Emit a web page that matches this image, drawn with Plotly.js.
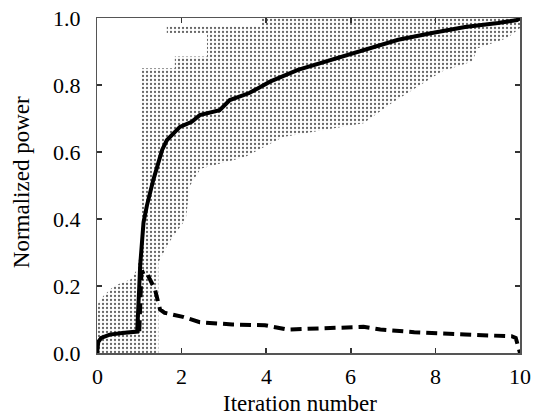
<!DOCTYPE html>
<html>
<head>
<meta charset="utf-8">
<script src="https://cdn.plot.ly/plotly-3.0.1.min.js"></script>
<style>
html,body{margin:0;padding:0;background:#fff;}
#chart{width:535px;height:415px;}
#chart text{font-family:'Liberation Serif','Times New Roman',serif !important;}
</style>
</head>
<body>
<div id="chart"></div>
<script>
// Mean normalized power (solid)
const meanX = [0, 0.03, 0.1, 0.3, 0.6, 0.95, 1.0, 1.02, 1.1, 1.18, 1.33, 1.54, 1.65, 1.8, 1.96, 2.24, 2.43, 2.9, 3.14, 3.6, 4.09, 4.75, 5.56, 6.34, 7.12, 7.92, 8.7, 9.48, 9.93, 10];
const meanY = [0, 0.033, 0.045, 0.055, 0.06, 0.064, 0.2, 0.26, 0.39, 0.44, 0.516, 0.606, 0.635, 0.656, 0.675, 0.69, 0.71, 0.725, 0.755, 0.776, 0.81, 0.845, 0.875, 0.905, 0.935, 0.955, 0.973, 0.985, 0.994, 1.0];
// Standard deviation (dashed)
const stdX = [1.0, 1.05, 1.15, 1.25, 1.37, 1.49, 1.6, 2.03, 2.43, 3.2, 3.97, 4.5, 5.0, 5.9, 6.3, 6.7, 7.5, 8.7, 9.8, 9.9, 10];
const stdY = [0.065, 0.24, 0.245, 0.22, 0.19, 0.13, 0.12, 0.108, 0.092, 0.085, 0.083, 0.07, 0.073, 0.078, 0.078, 0.07, 0.062, 0.055, 0.05, 0.045, 0];
// Outline of the region covered by individual runs (dotted area)
const runsX = [0, 1.45, 1.45, 1.7, 2.1, 2.2, 2.45, 3.5, 4.4, 6.3, 6.97, 7.6, 8.15, 8.87, 9.0, 9.7, 10, 10, 3.9, 3.9, 1.65, 1.65, 2.6, 2.6, 1.84, 1.84, 1.06, 1.02, 0.95, 0.8, 0.4, 0.15, 0.03, 0, 0];
const runsY = [0, 0, 0.27, 0.33, 0.4, 0.5, 0.55, 0.585, 0.645, 0.686, 0.746, 0.795, 0.84, 0.87, 0.91, 0.94, 0.97, 1.0, 1.0, 0.975, 0.975, 0.955, 0.955, 0.885, 0.885, 0.85, 0.85, 0.3, 0.25, 0.22, 0.2, 0.17, 0.15, 0.1, 0];
const xTicks = [0, 2, 4, 6, 8, 10];
const xTickText = ['0', '2', '4', '6', '8', '10'];
const yTicks = [0, 0.2, 0.4, 0.6, 0.8, 1.0];
const yTickText = ['0.0', '0.2', '0.4', '0.6', '0.8', '1.0'];
const xTitle = 'Iteration number';
const yTitle = 'Normalized power';

const FONT = 'Liberation Serif';

const traces = [
  {
    x: runsX, y: runsY, type: 'scatter', mode: 'lines', fill: 'toself',
    line: {width: 0, color: 'rgba(0,0,0,0)'},
    fillcolor: 'rgba(255,255,255,0)',
    fillpattern: {shape: '.', fgcolor: '#666', bgcolor: 'white', size: 4, solidity: 0.25},
    hoverinfo: 'skip', showlegend: false
  },
  {
    x: meanX, y: meanY, type: 'scatter', mode: 'lines',
    line: {color: '#000', width: 4}, showlegend: false
  },
  {
    x: stdX, y: stdY, type: 'scatter', mode: 'lines',
    line: {color: '#000', width: 4, dash: '11px,6px'}, showlegend: false
  }
];

const tickFont = {family: FONT, size: 22, color: '#000'};
const annotations = [];
xTicks.forEach((v, i) => annotations.push({
  xref: 'x', yref: 'paper', x: v, y: 0, xanchor: 'center', yanchor: 'middle',
  yshift: -23, showarrow: false, text: xTickText[i], font: tickFont
}));
yTicks.forEach((v, i) => annotations.push({
  xref: 'paper', yref: 'y', x: 0, y: v, xanchor: 'right', yanchor: 'middle',
  xshift: -14, showarrow: false, text: yTickText[i], font: tickFont
}));
annotations.push({
  xref: 'paper', yref: 'paper', x: 0.48, y: 0, xanchor: 'center', yanchor: 'middle',
  yshift: -50, showarrow: false, text: xTitle, font: {family: FONT, size: 23, color: '#000'}
});
annotations.push({
  xref: 'paper', yref: 'paper', x: 0, y: 0.51, xanchor: 'center', yanchor: 'middle',
  xshift: -76, textangle: -90, showarrow: false, text: yTitle, font: {family: FONT, size: 23, color: '#000'}
});

const axisCommon = {
  showgrid: false, zeroline: false, showline: true, linecolor: '#555', linewidth: 1.5,
  mirror: 'ticks', ticks: 'inside', ticklen: 5, tickwidth: 1.5, tickcolor: '#333',
  showticklabels: false
};

const layout = {
  width: 535, height: 415,
  font: {family: FONT, size: 22, color: '#000'},
  margin: {l: 97, r: 15, t: 18, b: 62},
  paper_bgcolor: '#fff', plot_bgcolor: '#fff',
  xaxis: Object.assign({}, axisCommon, {range: [0, 10], tickvals: xTicks}),
  yaxis: Object.assign({}, axisCommon, {range: [0, 1], tickvals: yTicks}),
  annotations: annotations,
  showlegend: false
};

Plotly.newPlot('chart', traces, layout, {staticPlot: true, displayModeBar: false});
</script>
</body>
</html>
